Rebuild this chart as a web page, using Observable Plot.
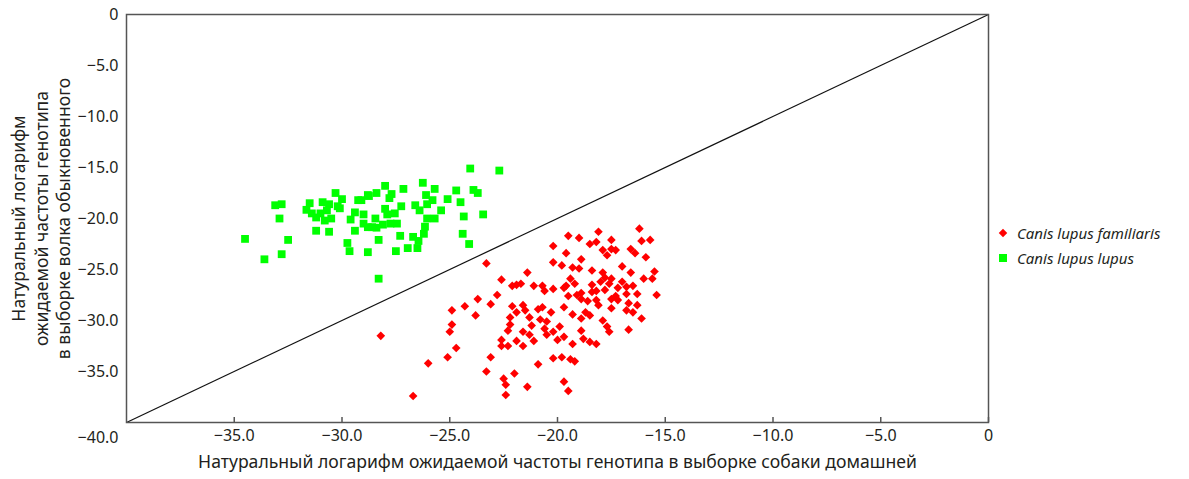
<!DOCTYPE html>
<html>
<head>
<meta charset="utf-8">
<script src="https://cdn.jsdelivr.net/npm/d3@7"></script>
<script src="https://cdn.jsdelivr.net/npm/@observablehq/plot@0.6"></script>
<style>
  html, body { margin: 0; padding: 0; background: #fff; overflow: hidden; }
  #wrap { position: relative; width: 1189px; height: 479px; font-family: "Noto Sans", Lato, sans-serif; color: #231f20; }
  #legend { position: absolute; left: 996px; top: 220px; font-size: 15px; font-style: italic; }
  .item { display: flex; align-items: center; height: 25px; }
  .sym { width: 14px; height: 14px; margin-right: 7px; display: flex; align-items: center; justify-content: center; }
</style>
</head>
<body>
<div id="wrap"><div id="chart"></div><div id="legend"></div></div>
<script>
const domainX = [-40, 0];
const domainY = [-40, 0];
const xTicks = [-35, -30, -25, -20, -15, -10, -5, 0];
const yTicks = [0, -5, -10, -15, -20, -25, -30, -35];
const cornerTick = [-40];
const xTitle = "Натуральный логарифм ожидаемой частоты генотипа в выборке собаки домашней";
const yTitle = "Натуральный логарифм\nожидаемой частоты генотипа\nв выборке волка обыкновенного";
const seriesNames = ["Canis lupus familiaris", "Canis lupus lupus"];
const seriesColors = ["#ff0000", "#00ff00"];

// Canis lupus lupus (green squares): [x, y]
const lupus = [
  [-34.5,-22.0],[-33.6,-24.0],[-32.8,-23.5],[-32.5,-22.1],[-33.1,-18.7],[-32.8,-18.6],[-32.9,-20.0],
  [-31.5,-18.5],[-31.65,-19.15],[-31.4,-19.5],[-31.2,-21.2],[-30.6,-21.3],[-30.9,-18.4],[-30.6,-18.6],
  [-31.0,-19.5],[-30.8,-20.2],[-30.5,-20.0],[-30.3,-17.5],[-30.0,-18.1],[-30.2,-18.8],[-30.7,-19.2],
  [-29.75,-22.4],[-29.65,-23.2],[-29.4,-19.4],[-29.6,-20.1],[-29.4,-21.2],[-29.1,-18.2],[-28.8,-23.3],
  [-28.3,-25.9],[-28.3,-22.1],[-28.75,-17.8],[-28.4,-17.5],[-28.0,-16.8],[-27.7,-17.6],[-27.8,-18.0],
  [-28.0,-19.05],[-29.0,-20.5],[-28.8,-20.85],[-28.45,-20.0],[-28.6,-20.85],[-28.4,-20.9],[-27.55,-19.5],
  [-27.25,-18.8],[-27.75,-20.5],[-27.45,-20.5],[-27.3,-21.7],[-27.5,-23.2],[-27.15,-17.1],[-26.7,-21.8],
  [-26.95,-22.9],[-26.5,-22.9],[-26.45,-22.2],[-26.2,-21.5],[-26.15,-20.8],[-26.05,-20.0],[-26.6,-18.7],
  [-26.25,-16.5],[-26.1,-17.7],[-26.05,-18.6],[-25.7,-17.1],[-25.8,-18.2],[-25.4,-19.2],[-25.7,-20.0],
  [-25.1,-18.1],[-24.7,-17.25],[-24.5,-18.4],[-24.35,-19.8],[-24.4,-21.5],[-24.1,-22.5],[-23.45,-19.6],
  [-23.9,-17.2],[-23.7,-17.5],[-24.05,-15.1],[-22.7,-15.3],
  [-29.25,-18.2],[-28.8,-17.7],[-30.1,-19.0],[-29.0,-19.6],[-27.9,-19.6],[-26.4,-19.2],[-31.2,-19.9],[-28.1,-20.6]
];

// Canis lupus familiaris (red diamonds): [x, y]
const familiaris = [
  [-23.3,-24.4],[-28.2,-31.5],[-26.7,-37.4],[-26.0,-34.2],[-25.1,-33.6],[-24.7,-32.7],[-25.0,-31.1],
  [-24.9,-30.4],[-24.9,-29.0],[-24.3,-28.6],[-23.8,-29.5],[-23.7,-27.9],[-23.1,-28.4],[-22.8,-27.5],
  [-22.6,-26.0],[-22.1,-26.6],[-21.9,-26.5],[-22.1,-28.6],[-22.2,-29.7],[-22.2,-30.4],[-22.3,-31.0],
  [-22.6,-31.9],[-22.6,-32.5],[-22.3,-32.5],[-23.1,-33.6],[-23.3,-35.0],[-22.5,-35.7],[-22.4,-36.3],
  [-22.4,-37.3],[-22.0,-35.2],[-21.4,-36.5],[-19.7,-36.0],[-19.5,-36.9],
  [-16.2,-21.0],[-18.1,-21.3],[-19.5,-21.7],[-19.0,-21.9],[-17.5,-22.1],[-16.1,-22.2],[-15.7,-22.1],
  [-18.5,-22.5],[-18.2,-22.3],[-20.2,-22.7],[-19.6,-23.4],[-17.9,-23.1],[-17.5,-23.0],[-17.3,-23.1],
  [-16.6,-23.0],[-16.4,-23.4],[-15.9,-23.8],[-17.7,-23.6],[-18.9,-24.0],[-20.2,-24.3],[-19.8,-24.6],
  [-19.3,-24.8],[-19.0,-24.9],[-18.4,-25.1],[-17.9,-25.3],[-17.0,-24.7],[-16.6,-25.3],[-15.5,-25.2],
  [-15.6,-25.9],[-16.0,-25.9],[-17.8,-25.8],[-17.5,-25.9],[-18.0,-26.2],[-17.6,-26.4],[-19.4,-25.9],
  [-19.6,-26.6],[-19.2,-26.4],[-21.4,-25.3],[-21.7,-26.4],[-21.1,-26.6],[-20.7,-26.6],[-20.6,-27.1],
  [-20.2,-26.9],[-19.7,-26.8],[-19.1,-27.5],[-18.9,-27.3],[-18.4,-27.2],[-18.2,-27.1],[-17.8,-27.0],
  [-17.2,-26.8],[-16.8,-26.7],[-16.5,-26.6],[-16.3,-27.4],[-16.8,-27.4],[-15.4,-27.5],[-18.9,-27.9],
  [-18.6,-28.1],[-18.2,-28.0],[-18.1,-28.5],[-17.5,-27.9],[-17.2,-28.0],[-16.7,-28.3],[-16.3,-28.5],
  [-17.5,-28.8],[-16.8,-29.0],[-16.5,-29.2],[-16.1,-29.8],[-17.9,-30.0],[-17.7,-30.6],[-17.6,-31.1],
  [-16.7,-30.9],[-18.7,-29.2],[-18.5,-29.5],[-18.9,-29.8],[-19.3,-29.4],[-19.7,-28.7],[-20.3,-29.2],
  [-20.7,-28.7],[-20.9,-28.9],[-21.5,-29.0],[-21.6,-28.5],[-21.9,-29.2],[-21.3,-29.7],[-20.8,-29.9],
  [-20.5,-30.1],[-19.9,-30.6],[-20.2,-31.1],[-20.6,-30.8],[-21.2,-30.5],[-21.3,-31.4],[-21.6,-31.1],
  [-21.9,-32.0],[-21.6,-32.5],[-21.1,-32.0],[-20.5,-31.4],[-20.0,-31.9],[-19.7,-31.6],[-19.3,-32.3],
  [-18.9,-31.0],[-18.8,-31.8],[-18.5,-32.1],[-18.2,-32.3],[-20.2,-33.7],[-19.8,-33.6],[-19.4,-33.8],
  [-19.2,-34.0],[-20.9,-34.3],
  [-18.4,-26.5],[-17.3,-27.6],[-19.5,-27.6],[-17.0,-26.2]
];

const fmt = d => d === 0 ? "0" : "\u2212" + Math.abs(d).toFixed(1);
const ink = "#231f20";
const font = "'Noto Sans', Lato, sans-serif";

const chart = Plot.plot({
  width: 1189,
  height: 479,
  marginLeft: 126,
  marginRight: 201,
  marginTop: 14,
  marginBottom: 57,
  style: { fontFamily: font, fontSize: "16px", color: ink, background: "#fff" },
  x: { domain: domainX },
  y: { domain: domainY },
  marks: [
    Plot.link([0], { x1: domainX[0], y1: domainY[0], x2: domainX[1], y2: domainY[1], stroke: "#111", strokeWidth: 1.2 }),
    Plot.dot(familiaris, { x: d => d[0], y: d => d[1], symbol: "diamond2", r: 3.9, fill: seriesColors[0], stroke: "none" }),
    Plot.dot(lupus, { x: d => d[0], y: d => d[1], symbol: "square", r: 4.4, fill: seriesColors[1], stroke: "none" }),
    Plot.frame({ stroke: "#555", strokeWidth: 1.5 }),
    Plot.tickX(xTicks, { x: d => d, insetTop: 403, stroke: "#555", strokeWidth: 1.5 }),
    Plot.axisX(xTicks, { tickSize: 0, tickPadding: 7, tickFormat: fmt, label: null, fontSize: 16, fill: ink }),
    Plot.axisY(yTicks, { tickSize: 0, tickPadding: 8, tickFormat: fmt, label: null, fontSize: 16, fill: ink }),
    Plot.axisY(cornerTick, { tickSize: 0, tickPadding: 8, dy: 15, tickFormat: fmt, label: null, fontSize: 16, fill: ink }),
    Plot.text([xTitle], { text: d => d, frameAnchor: "bottom", dy: 45, fontSize: 17.6, fill: ink }),
    Plot.text([yTitle], { text: d => d, frameAnchor: "left", textAnchor: "middle", dx: -86, rotate: -90, fontSize: 17.6, lineHeight: 1.27, fill: ink })
  ]
});
document.getElementById("chart").appendChild(chart);

const legend = document.getElementById("legend");
seriesNames.forEach((name, i) => {
  const item = document.createElement("div");
  item.className = "item";
  const sym = document.createElement("span");
  sym.className = "sym";
  const shape = document.createElement("span");
  shape.style.background = seriesColors[i];
  if (i === 0) { shape.style.width = "6px"; shape.style.height = "6px"; shape.style.transform = "rotate(45deg)"; }
  else { shape.style.width = "8px"; shape.style.height = "8px"; }
  sym.appendChild(shape);
  const label = document.createElement("span");
  label.textContent = name;
  item.appendChild(sym);
  item.appendChild(label);
  legend.appendChild(item);
});
</script>
</body>
</html>
